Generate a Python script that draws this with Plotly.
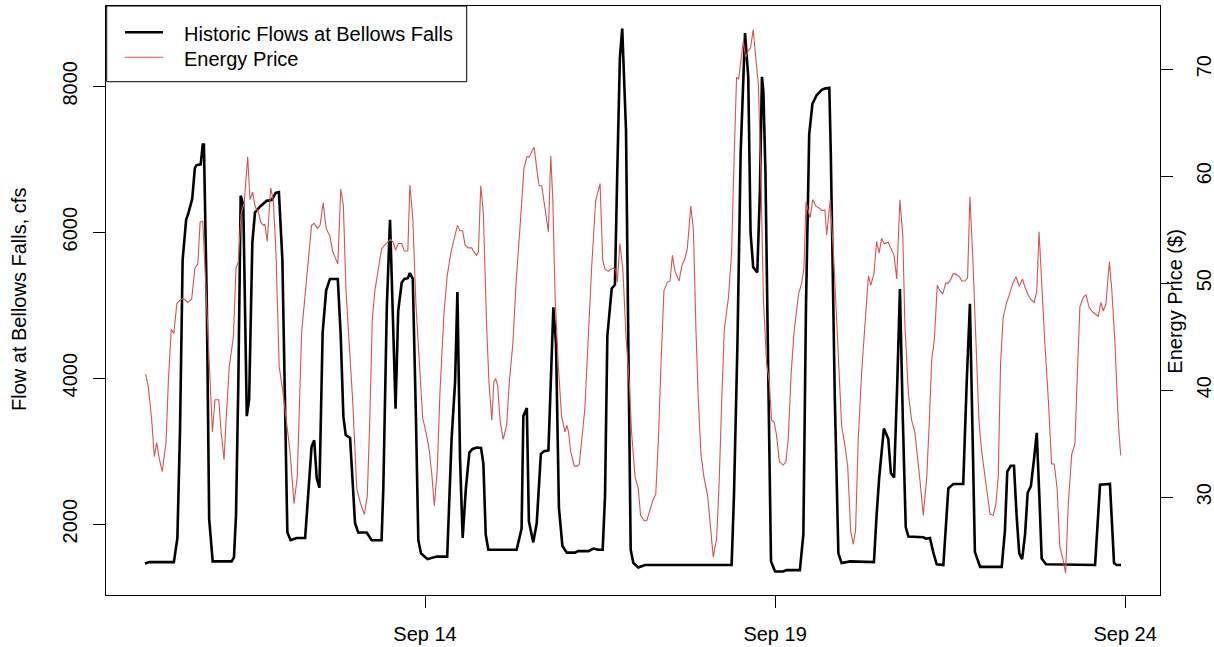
import pandas as pd
import plotly.graph_objects as go

# Hourly record starting 10 Sep, 00:00; times are hours since the start.
START = pd.Timestamp("2017-09-10 00:00")

flow_hours = [
    0.0, 1.5, 9.9, 11.1, 12.0, 12.9, 14.1, 14.8, 16.2, 17.1, 17.7, 19.1, 19.8, 20.2,
    21.2, 22.0, 23.2, 29.7, 30.5, 31.2, 32.0, 32.8, 33.7, 34.9, 35.7, 36.8, 37.7,
    39.4, 41.7, 43.4, 44.8, 45.9, 47.1, 48.0, 48.8, 49.9, 52.0, 54.9, 56.0, 57.1,
    58.0, 58.9, 59.8, 60.9, 62.1, 63.4, 66.1, 67.1, 68.0, 68.8, 70.3, 71.2, 72.0,
    73.1, 76.0, 77.7, 81.1, 81.7, 82.9, 84.0, 84.9, 85.9, 86.8, 88.0, 88.9, 90.1,
    90.8, 91.8, 92.9, 93.7, 94.6, 96.8, 100.0, 103.6, 105.1, 106.3, 107.1, 108.0,
    108.9, 110.0, 111.2, 112.3, 113.7, 115.2, 116.0, 116.8, 117.7, 127.4, 129.1,
    129.7, 130.9, 131.6, 133.1, 134.3, 135.7, 136.8, 138.3, 140.0, 140.9, 141.9,
    143.1, 144.6, 147.4, 148.5, 152.0, 153.7, 155.4, 156.9, 157.7, 158.5, 160.0,
    161.1, 161.9, 162.8, 163.6, 164.2, 164.9, 165.7, 166.5, 167.4, 169.1, 171.4,
    201.1, 201.9, 203.1, 204.2, 205.7, 206.8, 207.6, 208.5, 209.9, 210.8, 211.5,
    212.0, 212.7, 213.7, 214.6, 216.0, 218.8, 220.0, 224.5, 225.7, 226.6, 227.7,
    228.8, 230.3, 232.0, 233.1, 234.6, 235.1, 236.5, 237.7, 238.8, 241.7, 249.9,
    250.8, 251.7, 253.3, 254.8, 255.7, 256.8, 257.9, 258.8, 259.8, 260.8, 261.7,
    266.8, 267.7, 269.1, 270.2, 271.4, 273.7, 275.4, 277.1, 280.5, 281.7, 282.8,
    283.6, 284.5, 286.3, 293.7, 294.8, 295.6, 296.8, 297.9, 298.8, 299.7, 300.7,
    301.7, 302.6, 303.7, 304.8, 305.7, 306.6, 307.4, 308.9, 325.7, 327.4, 329.1,
    330.8, 332.2, 333.1, 334.6,
]
flow_cfs = [
    1460, 1480, 1480, 1807, 3270, 5620, 6170, 6250, 6460, 6880, 6920, 6930, 7200, 7200,
    4990, 2070, 1490, 1490, 1545, 2120, 3950, 6500, 6380, 3480, 3710, 5860, 6270,
    6350, 6430, 6440, 6540, 6550, 5620, 3430, 1890, 1780, 1810, 1810, 2430, 3060,
    3150, 2620, 2500, 4630, 5200, 5360, 5360, 4580, 3480, 3220, 3180, 2640, 2015,
    1885, 1885, 1780, 1780, 2490, 4990, 6170, 4990, 3580, 4920, 5310, 5360, 5370,
    5440, 5360, 3430, 1780, 1600, 1520, 1555, 1555, 3165, 3950, 5180, 2900,
    1810, 2490, 2980, 3030, 3050, 3045, 2830, 1860, 1650, 1650, 1940,
    3480, 3590, 2040, 1750, 2015, 2960, 3000, 3010, 4970, 4470, 2225,
    1700, 1610, 1610, 1630, 1630, 1665, 1650, 1650, 2380, 4575, 5230,
    5280, 6820, 8390, 8790, 8180, 7400, 4470, 1650, 1470, 1405, 1440,
    1440, 2380, 4470, 7085, 8730, 8130, 5990, 5520, 5450, 6560, 8130,
    7920, 6820, 3950, 1490, 1350, 1350, 1370, 1370, 1860, 4990, 7340,
    7760, 7880, 7950, 7970, 7980, 7085, 3690, 1600, 1467, 1490, 1480,
    2120, 2640, 3310, 3170, 2700, 2640, 3950, 5220, 3430, 1960, 1830,
    1820, 1800, 1810, 1620, 1450, 1440, 2490, 2550, 2550, 3950, 5020,
    3430, 1620, 1415, 1415, 1910, 2720, 2800, 2800, 2120, 1600, 1520,
    1860, 2430, 2520, 2900, 3250, 2380, 1530, 1450, 1440, 2540, 2550,
    2550, 1467, 1440, 1440,
]

price_hours = [
    0.2, 1.1, 2.3, 3.2, 4.0, 4.9, 5.9, 7.2, 8.0, 9.0, 9.9, 10.9, 12.0, 13.1, 14.6,
    16.0, 17.1, 18.1, 18.9, 19.8, 20.7, 21.7, 22.6, 23.1, 24.0, 25.3, 26.1, 27.1,
    27.8, 28.9, 30.3, 31.2, 32.0, 32.9, 34.0, 35.2, 36.0, 36.9, 37.8, 38.8, 39.7,
    40.6, 41.1, 41.9, 43.1, 44.0, 44.9, 46.0, 47.2, 48.3, 49.7, 51.1, 52.2, 53.7,
    55.6, 57.1, 58.0, 59.1, 60.0, 61.1, 62.1, 63.4, 64.3, 66.1, 67.1, 68.0, 68.9,
    70.0, 71.2, 72.6, 73.9, 75.2, 76.2, 77.1, 77.9, 78.8, 80.0, 81.1, 82.3, 83.4,
    84.2, 85.1, 85.9, 86.8, 88.0, 88.9, 90.1, 90.8, 91.8, 92.9, 94.0, 95.2, 96.3,
    97.4, 98.3, 99.2, 100.2, 101.1, 102.5, 103.6, 104.9, 106.0, 107.1, 108.0,
    108.9, 109.7, 110.8, 112.0, 112.8, 113.7, 114.3, 115.1, 116.0, 117.1, 117.9,
    118.9, 119.6, 120.2, 120.9, 121.7, 122.8, 124.0, 124.9, 126.1, 127.2, 128.6,
    129.9, 130.9, 131.7, 132.6, 133.4, 134.3, 135.1, 136.0, 136.8, 137.7, 138.3,
    139.1, 139.8, 140.6, 141.7, 142.8, 144.0, 144.6, 145.2, 145.9, 147.2, 148.3,
    148.9, 150.8, 152.0, 153.1, 154.5, 155.4, 156.0, 156.9, 157.7, 158.8, 159.7,
    160.6, 161.4, 161.9, 162.8, 163.8, 164.9, 166.0, 166.8, 168.0, 169.1, 169.9,
    171.1, 172.0, 173.1, 174.1, 175.1, 176.0, 176.9, 177.9, 179.1, 180.0, 180.8,
    181.7, 183.1, 184.0, 185.1, 185.9, 187.1, 188.0, 188.9, 189.7, 190.6, 191.6,
    192.9, 193.9, 194.8, 196.0, 196.9, 197.7, 198.6, 200.0, 201.1, 202.0, 202.8,
    203.5, 204.2, 205.1, 205.9, 206.8, 207.6, 208.5, 209.4, 210.3, 211.1, 212.0,
    213.1, 214.0, 214.8, 215.7, 216.5, 217.5, 218.8, 219.7, 220.5, 221.5, 222.5,
    224.0, 225.1, 225.9, 226.6, 228.0, 228.9, 230.0, 231.2, 232.0, 233.1, 233.7,
    234.9, 236.0, 237.2, 238.1, 238.8, 239.9, 240.9, 241.9, 242.8, 243.6, 244.5,
    245.7, 246.8, 248.0, 248.8, 249.9, 250.8, 251.7, 252.5, 253.4, 254.8, 255.7,
    256.8, 257.7, 258.8, 259.8, 260.5, 261.7, 262.8, 263.9, 264.8, 265.7, 266.8,
    268.0, 268.9, 269.7, 270.6, 271.6, 272.5, 273.5, 274.5, 275.4, 276.3, 277.1,
    278.3, 279.2, 280.0, 281.1, 282.0, 282.8, 283.7, 284.8, 285.9, 286.8, 287.6,
    288.5, 289.7, 290.8, 291.7, 292.5, 293.3, 294.2, 295.4, 296.3, 297.5, 298.6,
    299.7, 300.8, 301.7, 302.8, 303.6, 304.8, 305.7, 306.5, 307.4, 308.5, 309.7,
    310.8, 311.7, 312.7, 313.6, 314.7, 315.6, 316.5, 317.7, 318.8, 319.6, 320.5,
    321.7, 322.6, 323.7, 324.9, 325.9, 326.8, 327.7, 328.5, 329.4, 330.6, 331.4,
    332.5, 333.7, 334.5,
]
price_usd = [
    41.5, 40.4, 37.2, 33.8, 35.1, 33.6, 32.4, 35.1, 40.8, 45.7, 45.3, 48.1, 48.4, 48.6, 48.2,
    48.5, 51.4, 51.8, 55.7, 55.8, 50.7, 44.3, 39.0, 36.1, 39.1, 39.1, 36.1, 33.5,
    37.2, 42.2, 45.0, 51.4, 52.0, 56.4, 57.5, 61.8, 57.8, 58.5, 57.1, 56.7, 55.7,
    55.4, 55.5, 53.9, 58.9, 57.7, 52.9, 42.2, 40.0, 37.6, 34.3, 29.4, 31.9, 45.4,
    51.4, 55.4, 55.6, 55.1, 55.4, 57.5, 55.1, 54.4, 53.0, 51.8, 58.8, 57.3, 49.3,
    44.3, 39.0, 30.8, 29.4, 28.4, 30.1, 37.6, 46.5, 49.3, 51.4, 53.2, 53.6, 53.9,
    54.1, 53.8, 53.1, 53.7, 53.7, 53.0, 53.0, 59.2, 56.1, 47.9, 42.5, 37.4, 36.1,
    34.5, 32.2, 29.2, 32.6, 39.7, 47.2, 50.7, 52.9, 54.1, 55.4, 54.9,
    54.9, 53.6, 53.3, 53.3, 52.9, 52.6, 52.9, 59.1, 56.6, 46.1, 40.8,
    37.2, 40.8, 41.1, 40.4, 37.2, 35.4, 36.8, 40.8, 44.3, 50.0, 55.4,
    60.7, 61.8, 61.8, 62.3, 62.7, 60.7, 59.1, 59.1, 57.5, 55.7, 54.8,
    61.9, 57.8, 48.6, 42.2, 37.6, 36.1, 36.7, 36.1, 34.3, 32.9, 32.9,
    33.1, 38.3, 45.4, 51.4, 57.7, 58.6, 59.3, 52.2, 51.3, 51.1, 51.3,
    51.4, 51.3, 50.1, 53.7, 51.4, 45.0, 40.8, 36.1, 31.9, 30.8, 28.3,
    27.8, 27.8, 28.8, 29.7, 30.3, 35.4, 42.5, 49.3, 50.1, 50.2, 52.6,
    51.1, 50.2, 51.6, 52.3, 53.2, 57.2, 55.0, 45.4, 39.0, 34.0, 31.9,
    30.1, 27.1, 24.4, 26.2, 31.9, 39.0, 45.7, 48.6, 52.9, 62.1, 69.2,
    69.1, 70.7, 72.6, 71.1, 71.7, 72.0, 73.7, 71.0, 68.5, 60.3, 48.6,
    42.5, 40.8, 37.2, 37.0, 35.8, 33.3, 33.0, 33.3, 35.4, 41.5, 45.4,
    48.9, 50.0, 51.4, 57.6, 56.1, 57.8, 57.2, 57.0, 56.8, 56.8, 54.5,
    57.8, 52.9, 46.1, 40.8, 36.7, 34.9, 32.9, 26.9, 25.6, 26.9, 35.4,
    41.8, 45.7, 50.7, 49.8, 50.9, 53.9, 52.8, 54.2, 53.7, 53.8, 53.2,
    52.6, 50.4, 57.8, 54.3, 46.1, 39.7, 37.2, 36.1, 34.0, 31.5, 28.3,
    31.9, 37.2, 42.9, 44.7, 49.8, 49.3, 49.0, 50.0, 50.0, 50.4, 50.9,
    50.8, 50.6, 50.2, 50.2, 50.5, 58.1, 52.9, 44.3, 37.2, 34.3, 32.6,
    30.8, 28.4, 28.3, 29.4, 31.9, 42.5, 46.8, 48.2, 48.9, 50.0, 50.6,
    49.7, 50.4, 49.6, 48.9, 48.5, 48.2, 49.2, 54.8, 49.6, 44.3, 39.0,
    33.1, 33.1, 30.8, 25.4, 24.2, 22.9, 29.3, 34.0, 35.0, 41.3, 47.8,
    48.7, 48.9, 47.7, 47.3, 47.1, 46.9, 48.2, 47.4, 48.0, 52.0, 49.5,
    44.5, 36.8, 33.9,
]

flow_ticks = [2000, 4000, 6000, 8000]
price_ticks = [30, 40, 50, 60, 70]
date_ticks = ["2017-09-14", "2017-09-19", "2017-09-24"]

series_names = ["Historic Flows at Bellows Falls", "Energy Price"]

flow_time = START + pd.to_timedelta(flow_hours, unit="h")
price_time = START + pd.to_timedelta(price_hours, unit="h")

FONT = "Liberation Sans, Arial, Helvetica, sans-serif"
RED = "#D9534F"
FLOW_WIDTH = 2.6
PRICE_WIDTH = 1.1

W, H = 1214, 647
ML, MR, MT, MB = 106, 54, 6, 52
PW, PH = W - ML - MR, H - MT - MB


def px(x):
    """Page pixel column -> paper x."""
    return (x - ML) / PW


def py(y):
    """Page pixel row -> paper y."""
    return (H - MB - y) / PH


fig = go.Figure()
fig.add_trace(go.Scatter(
    x=flow_time, y=flow_cfs, mode="lines", name=series_names[0],
    line=dict(color="black", width=FLOW_WIDTH), yaxis="y", showlegend=False,
))
fig.add_trace(go.Scatter(
    x=price_time, y=price_usd, mode="lines", name=series_names[1],
    line=dict(color=RED, width=PRICE_WIDTH), yaxis="y2", showlegend=False,
))

x_lo = START + pd.Timedelta(hours=-13.37)
x_hi = START + pd.Timedelta(hours=347.96)

axis_common = dict(
    showgrid=False, zeroline=False, showline=True, linecolor="black", linewidth=1,
    ticks="outside", ticklen=12, tickwidth=1, tickcolor="black", automargin=False,
    tickfont=dict(family=FONT, size=20, color="black"),
)

# legend box drawn in the top-left corner of the plot frame
legend_shapes = [
    dict(type="rect", xref="paper", yref="paper",
         x0=px(106.7), x1=px(466.7), y0=py(81.7), y1=py(6),
         line=dict(color="black", width=1), fillcolor="white", layer="above"),
    dict(type="line", xref="paper", yref="paper",
         x0=px(125), x1=px(163), y0=py(32.3), y1=py(32.3),
         line=dict(color="black", width=FLOW_WIDTH), layer="above"),
    dict(type="line", xref="paper", yref="paper",
         x0=px(125), x1=px(163), y0=py(57.3), y1=py(57.3),
         line=dict(color=RED, width=PRICE_WIDTH), layer="above"),
]
legend_text = [
    dict(text=series_names[0], xref="paper", yref="paper", x=px(182), y=py(34.2),
         xanchor="left", yanchor="middle", showarrow=False,
         font=dict(family=FONT, size=20, color="black")),
    dict(text=series_names[1], xref="paper", yref="paper", x=px(182), y=py(59.2),
         xanchor="left", yanchor="middle", showarrow=False,
         font=dict(family=FONT, size=20, color="black")),
]

axis_titles = [
    dict(text="Flow at Bellows Falls, cfs", xref="paper", yref="paper",
         x=px(19), y=py(300), xanchor="center", yanchor="middle",
         textangle=-90, showarrow=False, font=dict(family=FONT, size=20, color="black")),
    dict(text="Energy Price ($)", xref="paper", yref="paper",
         x=px(1175), y=py(301.7), xanchor="center", yanchor="middle",
         textangle=-90, showarrow=False, font=dict(family=FONT, size=20, color="black")),
]

fig.update_layout(
    width=W, height=H,
    margin=dict(l=ML, r=MR, t=MT, b=MB),
    paper_bgcolor="white", plot_bgcolor="white",
    font=dict(family=FONT, size=20, color="black"),
    xaxis=dict(
        range=[x_lo, x_hi], tickvals=pd.to_datetime(date_ticks), tickformat="%b %d",
        mirror=True, ticklabelstandoff=9, **axis_common,
    ),
    yaxis=dict(
        range=[1029, 9100], tickvals=flow_ticks, tickangle=-90,
        ticklabelstandoff=8, **axis_common,
    ),
    yaxis2=dict(
        range=[20.86, 75.9], tickvals=price_ticks, tickangle=-90,
        overlaying="y", side="right", ticklabelstandoff=14, **axis_common,
    ),
    showlegend=False,
    shapes=legend_shapes,
    annotations=legend_text + axis_titles,
)

fig.write_html("out.html")
